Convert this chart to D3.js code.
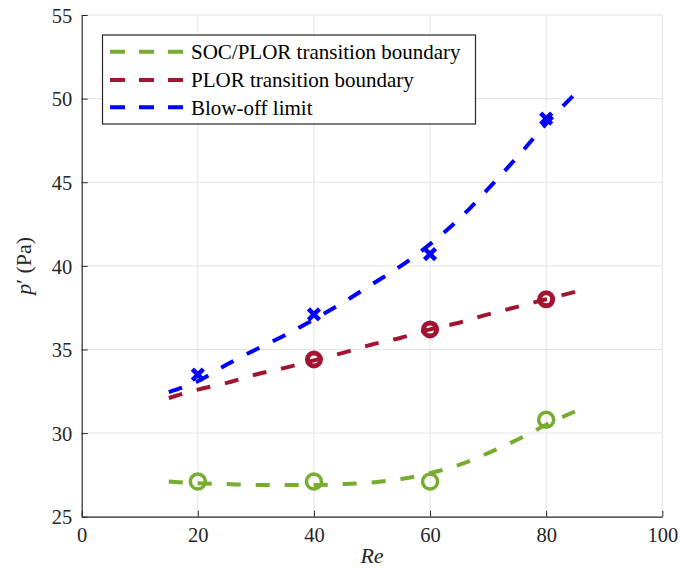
<!DOCTYPE html>
<html><head><meta charset="utf-8">
<script src="https://cdn.jsdelivr.net/npm/d3@7"></script>
<style>body{margin:0;background:#fff}svg{display:block}
svg text{font-family:"Liberation Serif","Times New Roman",Times,Tinos,"DejaVu Serif",serif !important;}</style>
</head><body><svg id="c" width="680" height="568"></svg>
<script>
// ---- data ----
const xTicks = [0, 20, 40, 60, 80, 100];
const yTicks = [25, 30, 35, 40, 45, 50, 55];
const seriesNames = ["SOC/PLOR transition boundary", "PLOR transition boundary", "Blow-off limit"];
const seriesColors = ["#77AC30", "#A2142F", "#0000FF"];
// measured points
const socX = [20, 40, 60, 80];
const socY = [27.1, 27.1, 27.1, 30.8];
const plorX = [40, 60, 80];
const plorY = [34.4, 36.2, 38.0];
const blowX = [20, 40, 60, 80];
const blowY = [33.5, 37.1, 40.7, 48.8];
// fitted curves
const fitX = [15, 20, 25, 30, 35, 40, 45, 50, 55, 60, 65, 70, 75, 80, 85];
const socFit = [27.1, 27.0, 26.95, 26.9, 26.9, 26.9, 26.95, 27.05, 27.25, 27.6, 28.1, 28.8, 29.6, 30.5, 31.3];
const plorFit = [32.1, 32.6, 33.0, 33.5, 33.9, 34.35, 34.8, 35.3, 35.7, 36.2, 36.6, 37.1, 37.55, 38.0, 38.45];
const blowFit = [32.45, 33.1, 34.1, 35.0, 35.85, 36.8, 37.8, 38.9, 40.0, 41.3, 42.8, 44.6, 46.5, 48.5, 50.3];

const svg = d3.select("#c");
const L = 81.7, R = 662.3, T = 15, B = 516.7;
const x = d3.scaleLinear().domain([0, 100]).range([L, R]);
const y = d3.scaleLinear().domain([25, 55]).range([B, T]);
const font = "Liberation Serif";

// grid
const g = svg.append("g");
g.selectAll("line.gx").data(xTicks.slice(1)).join("line")
  .attr("x1", d => x(d)).attr("x2", d => x(d)).attr("y1", T).attr("y2", B)
  .attr("stroke", "#e3e3e3").attr("stroke-width", 1);
g.selectAll("line.gy").data(yTicks.slice(1)).join("line")
  .attr("x1", L).attr("x2", R).attr("y1", d => y(d)).attr("y2", d => y(d))
  .attr("stroke", "#e3e3e3").attr("stroke-width", 1);

// axes
const xAxis = d3.axisBottom(x).tickValues(xTicks).tickSizeInner(-6).tickSizeOuter(0).tickPadding(11);
const yAxis = d3.axisLeft(y).tickValues(yTicks).tickSizeInner(-6).tickSizeOuter(0).tickPadding(9.5);
const ax = svg.append("g").attr("transform", `translate(0,${B})`).call(xAxis);
const ay = svg.append("g").attr("transform", `translate(${L},0)`).call(yAxis);
[ax, ay].forEach(a => {
  a.attr("font-family", font).attr("font-size", 20.5);
  a.select(".domain").attr("stroke", "#262626").attr("stroke-width", 1.2);
  a.selectAll(".tick line").attr("stroke", "#262626").attr("stroke-width", 1);
  a.selectAll(".tick text").attr("fill", "#262626");
});
ay.selectAll(".tick text").attr("dy", "0.35em");

// titles
svg.append("text").attr("x", (L + R) / 2).attr("y", 563).attr("text-anchor", "middle")
  .attr("font-family", font).attr("font-size", 22).attr("font-style", "italic").attr("fill", "#262626").text("Re");
const yt = svg.append("text").attr("transform", `translate(31,${(T + B) / 2}) rotate(-90)`).attr("text-anchor", "middle")
  .attr("font-family", font).attr("font-size", 22).attr("fill", "#262626");
yt.append("tspan").attr("font-style", "italic").text("p");
yt.append("tspan").text("′ (Pa)");

// markers
const pts = svg.append("g");
pts.selectAll("circle.s").data(socX.map((d, i) => [d, socY[i]])).join("circle")
  .attr("cx", d => x(d[0])).attr("cy", d => y(d[1])).attr("r", 7.5)
  .attr("fill", "none").attr("stroke", seriesColors[0]).attr("stroke-width", 3.5);
pts.selectAll("circle.p").data(plorX.map((d, i) => [d, plorY[i]])).join("circle")
  .attr("cx", d => x(d[0])).attr("cy", d => y(d[1])).attr("r", 6.5)
  .attr("fill", "none").attr("stroke", seriesColors[1]).attr("stroke-width", 5);
const cs = 5.5;
blowX.forEach((d, i) => {
  const cx = x(d), cy = y(blowY[i]);
  pts.append("path").attr("d", `M${cx - cs},${cy - cs}L${cx + cs},${cy + cs}M${cx - cs},${cy + cs}L${cx + cs},${cy - cs}`)
    .attr("stroke", seriesColors[2]).attr("stroke-width", 4.5).attr("fill", "none");
});

// fit lines
const line = d3.line().x(d => x(d[0])).y(d => y(d[1])).curve(d3.curveMonotoneX);
[socFit, plorFit, blowFit].forEach((fy, k) => {
  svg.append("path").datum(fitX.map((d, i) => [d, fy[i]])).attr("d", line)
    .attr("fill", "none").attr("stroke", seriesColors[k]).attr("stroke-width", 4)
    .attr("stroke-dasharray", "14,15");
});

// legend
const lg = svg.append("g");
lg.append("rect").attr("x", 102.5).attr("y", 35).attr("width", 373).attr("height", 89)
  .attr("fill", "#fff").attr("stroke", "#262626").attr("stroke-width", 1.2);
const ly = [51.7, 80, 107.3];
seriesNames.forEach((n, k) => {
  lg.append("line").attr("x1", 110).attr("x2", 183.5).attr("y1", ly[k]).attr("y2", ly[k])
    .attr("stroke", seriesColors[k]).attr("stroke-width", 4).attr("stroke-dasharray", "15,14");
  lg.append("text").attr("x", 191).attr("y", ly[k]).attr("dy", "0.35em")
    .attr("font-family", font).attr("font-size", 21).attr("fill", "#000").text(n);
});
</script></body></html>
